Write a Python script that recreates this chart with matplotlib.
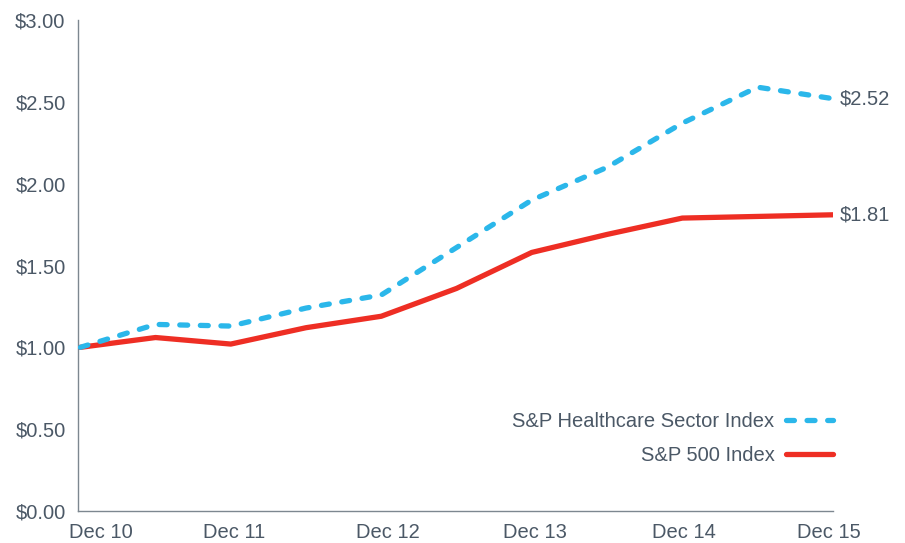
import matplotlib
matplotlib.use('Agg')
import matplotlib.pyplot as plt

# Growth of $1 invested, sampled every half year from Dec 10 to Dec 15
periods = list(range(11))
healthcare = [1.00, 1.14, 1.13, 1.24, 1.32, 1.61, 1.90, 2.10, 2.37, 2.59, 2.52]
sp500 = [1.00, 1.06, 1.02, 1.12, 1.19, 1.36, 1.58, 1.69, 1.79, 1.80, 1.81]

year_labels = ['Dec 10', 'Dec 11', 'Dec 12', 'Dec 13', 'Dec 14', 'Dec 15']
year_label_pos = [0.28, 2.05, 4.09, 6.04, 8.02, 9.95]
y_ticks = [0.0, 0.5, 1.0, 1.5, 2.0, 2.5, 3.0]

BLUE = '#2bb7ea'
RED = '#ee2e24'
TEXT = '#4b5866'
AXIS = '#7d8790'
FS = 14.5

plt.rcParams['font.family'] = ['Liberation Sans', 'DejaVu Sans']

fig = plt.figure(figsize=(9.05, 5.43), dpi=100)
ax = fig.add_axes([0.0862, 0.059, 0.834, 0.904])

ax.plot(periods, sp500, color=RED, linewidth=3.8, solid_capstyle='round',
        solid_joinstyle='round', label='S&P 500 Index', zorder=3)
ax.plot(periods, healthcare, color=BLUE, linewidth=3.8, dashes=(1.5, 2.4),
        dash_capstyle='round', dash_joinstyle='round',
        label='S&P Healthcare Sector Index', zorder=4)

# end-of-period values
ax.text(periods[-1] + 0.09, healthcare[-1], f'${healthcare[-1]:.2f}',
        color=TEXT, fontsize=FS, va='center', ha='left', clip_on=False)
ax.text(periods[-1] + 0.09, sp500[-1], f'${sp500[-1]:.2f}',
        color=TEXT, fontsize=FS, va='center', ha='left', clip_on=False)

ax.set_xlim(-0.03, 10.0)
ax.set_ylim(0, 3.0)
ax.set_yticks(y_ticks)
ax.set_yticklabels([f'${v:.2f}' for v in y_ticks])
ax.set_xticks(year_label_pos)
ax.set_xticklabels(year_labels)
ax.tick_params(length=0, labelsize=FS, labelcolor=TEXT)
ax.tick_params(axis='y', pad=9)
ax.tick_params(axis='x', pad=9)

for side in ['top', 'right']:
    ax.spines[side].set_visible(False)
for side in ['left', 'bottom']:
    ax.spines[side].set_color(AXIS)
    ax.spines[side].set_linewidth(1.0)

handles, labels = ax.get_legend_handles_labels()
ax.legend(handles[::-1], labels[::-1], loc='lower right',
          bbox_to_anchor=(1.0, 0.093), markerfirst=False, frameon=False,
          fontsize=FS, labelcolor=TEXT, handlelength=2.3, handletextpad=0.6,
          labelspacing=0.75, borderaxespad=0, borderpad=0)

fig.savefig('out.png', dpi=100)
